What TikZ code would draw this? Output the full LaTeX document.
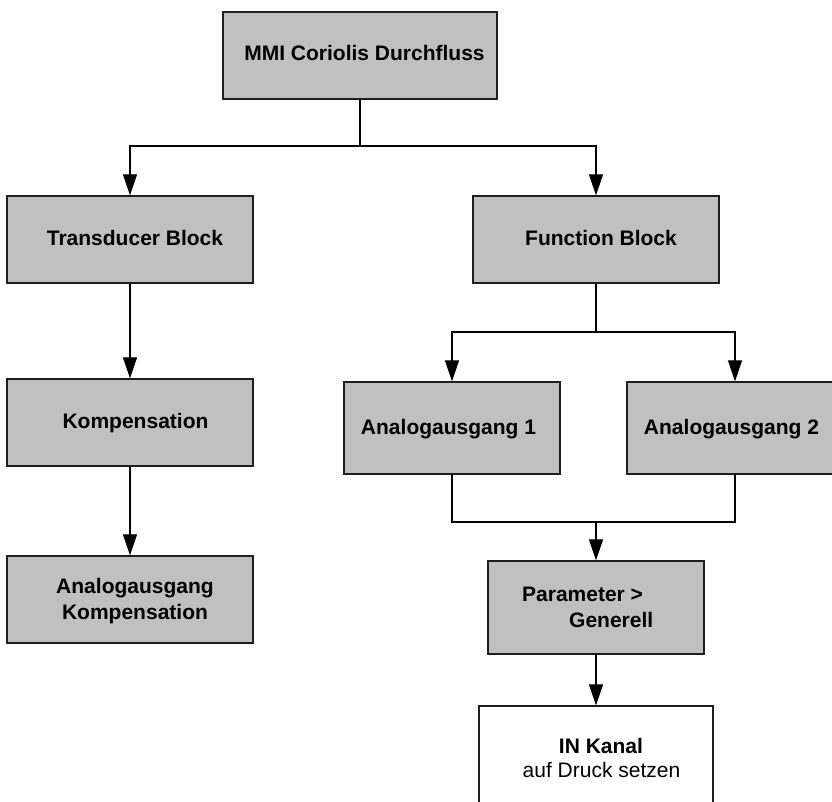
\documentclass[tikz,border=0pt]{standalone}
\usepackage{fontspec}
\setmainfont{Liberation Sans}
\usetikzlibrary{arrows.meta}
\definecolor{boxgray}{RGB}{192,192,192}
\definecolor{boxedge}{RGB}{30,30,30}
\tikzset{
  box/.style={draw=boxedge, line width=1.3pt, fill=boxgray, rectangle, inner sep=0pt},
  wbox/.style={draw=boxedge, line width=1.3pt, fill=white, rectangle, inner sep=0pt},
  lbl/.style={inner sep=0pt, anchor=base, font=\fontsize{21}{26}\selectfont\bfseries},
  lblleft/.style={inner sep=0pt, anchor=base west, font=\fontsize{21}{26}\selectfont\bfseries},
  lblreg/.style={inner sep=0pt, anchor=base, font=\fontsize{21}{26}\selectfont},
  conn/.style={draw=black, line width=1.1pt},
  arr/.style={conn, -{Triangle[length=21pt, width=14pt]}},
}
\begin{document}
\begin{tikzpicture}[x=1pt, y=-1pt]
\useasboundingbox (0,0) rectangle (832,802);
\clip (0,0) rectangle (832,802);

% boxes
\node[box, minimum width=274pt, minimum height=87pt] (mmi) at (360,55.5) {};
\node[box, minimum width=246pt, minimum height=87pt] (tb) at (130,239.5) {};
\node[box, minimum width=246pt, minimum height=87pt] (fb) at (596,239.5) {};
\node[box, minimum width=246pt, minimum height=87pt] (komp) at (130,422.5) {};
\node[box, minimum width=246pt, minimum height=87pt] (ak) at (130,599.5) {};
\node[box, minimum width=216pt, minimum height=92pt] (a1) at (452,428) {};
\node[box, minimum width=216pt, minimum height=92pt] (a2) at (735,428) {};
\node[box, minimum width=216pt, minimum height=93pt] (par) at (596,607.5) {};
\node[wbox, minimum width=234pt, minimum height=130pt] (ink) at (596,771) {};

% labels
\node[lbl] (mmit) at (364.5,61) {MMI Coriolis Durchfluss};
\node[lbl] (tbt) at (135,245.5) {Transducer Block};
\node[lbl] (fbt) at (601,245.5) {Function Block};
\node[lbl] (kompt) at (135.5,428) {Kompensation};
\node[lbl] (akt1) at (135,593) {Analogausgang};
\node[lbl] (akt2) at (135,619) {Kompensation};
\node[lbl] (a1t) at (448.5,434) {Analogausgang 1};
\node[lbl] (a2t) at (731.5,434) {Analogausgang 2};
\node[lblleft] (part1) at (522,601) {Parameter >};
\node[lblleft] (part2) at (569,627) {Generell};
\node[lbl] (inkt1) at (601,753) {IN Kanal};
\node[lblreg] (inkt2) at (601.5,777) {auf Druck setzen};

% junctions
\coordinate (j1) at (360,146);
\coordinate (j2) at (596,332);
\coordinate (j3) at (596,522);

% connectors
\draw[conn] (mmi.south) -- (j1);
\draw[arr] (j1) -| (tb.north);
\draw[arr] (j1) -| (fb.north);
\draw[arr] (tb.south) -- (komp.north);
\draw[arr] (komp.south) -- (ak.north);
\draw[conn] (fb.south) -- (j2);
\draw[arr] (j2) -| (a1.north);
\draw[arr] (j2) -| (a2.north);
\draw[conn] (a1.south) |- (j3);
\draw[conn] (a2.south) |- (j3);
\draw[arr] (j3) -- (par.north);
\draw[arr] (par.south) -- (ink.north);
\end{tikzpicture}
\end{document}
